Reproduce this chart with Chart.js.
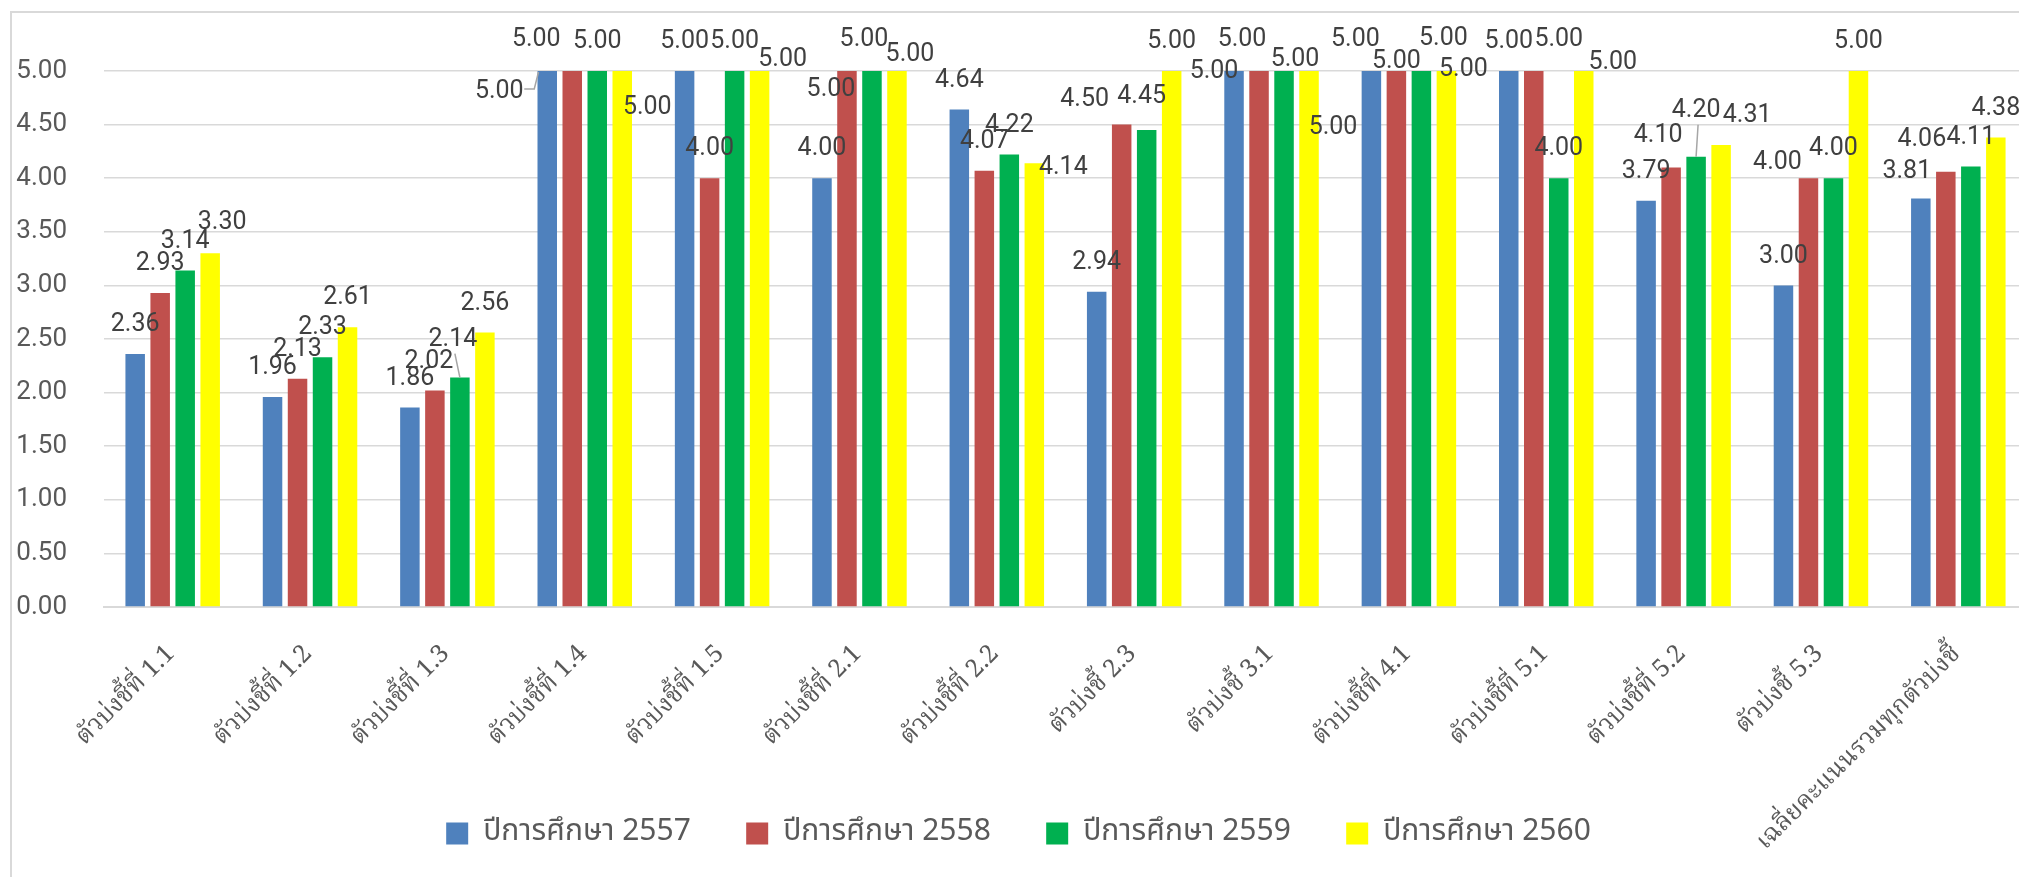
<!DOCTYPE html>
<html>
<head>
<meta charset="utf-8">
<script src="https://cdn.jsdelivr.net/npm/chart.js@4.4.0/dist/chart.umd.min.js"></script>
<style>
    html, body { margin: 0; padding: 0; background: #fff; overflow: hidden; }
    #marco {
        position: absolute; left: 10px; top: 11px; width: 2100px; height: 900px;
        border-left: 2px solid #d9d9d9; border-top: 2px solid #d9d9d9;
    }
    #contenedor { position: absolute; left: 0; top: 0; width: 2035px; height: 877px; }
</style>
</head>
<body>
<div id="marco"></div>
<div id="contenedor"><canvas id="chartIndicadores"></canvas></div>
<script>
const categorias = [
    'ตัวบ่งชี้ที่ 1.1', 'ตัวบ่งชี้ที่ 1.2', 'ตัวบ่งชี้ที่ 1.3', 'ตัวบ่งชี้ที่ 1.4',
    'ตัวบ่งชี้ที่ 1.5', 'ตัวบ่งชี้ที่ 2.1', 'ตัวบ่งชี้ที่ 2.2', 'ตัวบ่งชี้ 2.3',
    'ตัวบ่งชี้ 3.1', 'ตัวบ่งชี้ที่ 4.1', 'ตัวบ่งชี้ที่ 5.1', 'ตัวบ่งชี้ที่ 5.2',
    'ตัวบ่งชี้ 5.3', 'เฉลี่ยคะแนนรวมทุกตัวบ่งชี้'
];

const nombresSeries = ['ปีการศึกษา 2557', 'ปีการศึกษา 2558', 'ปีการศึกษา 2559', 'ปีการศึกษา 2560'];

const valores2557 = [2.36, 1.96, 1.86, 5.00, 5.00, 4.00, 4.64, 2.94, 5.00, 5.00, 5.00, 3.79, 3.00, 3.81];
const valores2558 = [2.93, 2.13, 2.02, 5.00, 4.00, 5.00, 4.07, 4.50, 5.00, 5.00, 5.00, 4.10, 4.00, 4.06];
const valores2559 = [3.14, 2.33, 2.14, 5.00, 5.00, 5.00, 4.22, 4.45, 5.00, 5.00, 4.00, 4.20, 4.00, 4.11];
const valores2560 = [3.30, 2.61, 2.56, 5.00, 5.00, 5.00, 4.14, 5.00, 5.00, 5.00, 5.00, 4.31, 5.00, 4.38];

const colores = ['#4f81bd', '#c0504d', '#00b050', '#ffff00'];

// desplazamientos de etiquetas que Excel movió para que no se encimen (grupo,serie)
const ajustesEtiqueta = {
    '0,3': [12, -30],
    '2,1': [-6, -29], '2,2': [-7, -38, 'v'],
    '3,0': [-48, 21, 'h'], '3,1': [-36, -31], '3,3': [25, 37],
    '4,3': [23, -11],
    '5,1': [-16, 19], '5,2': [-8, -31], '5,3': [13, -16],
    '6,3': [29, 5],
    '7,1': [-37, -25], '7,2': [-5, -33],
    '8,0': [-20, 1], '8,1': [-17, -31], '8,2': [11, -11], '8,3': [24, 57],
    '9,0': [-16, -31], '9,1': [0, -9], '9,2': [22, -32], '9,3': [17, -1],
    '10,1': [25, -31], '10,3': [29, -8],
    '11,1': [-13, -32], '11,2': [0, -46, 'v'], '11,3': [26, -29],
    '12,1': [-31, -15],
    '13,0': [-14, -27], '13,1': [-24, -32]
};

const fuenteThai = "'Noto Sans Thai', 'Noto Sans Thai UI', 'Leelawadee UI', 'Garuda', 'Loma', 'Noto Sans', sans-serif";
const fuenteThaiSerif = "'Noto Serif Thai', 'Norasi', 'Kinnari', 'Noto Sans Thai', 'Garuda', serif";
const fuenteNumeros = "Roboto, 'Liberation Sans', sans-serif";

const etiquetasValor = {
    id: 'etiquetasValor',
    afterDatasetsDraw(chart) {
        const ctx = chart.ctx;
        ctx.save();
        ctx.font = '25px ' + fuenteNumeros;
        ctx.textAlign = 'center';
        ctx.textBaseline = 'middle';
        chart.data.datasets.forEach((ds, s) => {
            chart.getDatasetMeta(s).data.forEach((bar, g) => {
                const ajuste = ajustesEtiqueta[g + ',' + s] || [0, -29];
                const x = bar.x + ajuste[0];
                const y = bar.y + ajuste[1];
                if (ajuste[2]) {
                    ctx.strokeStyle = '#a6a6a6';
                    ctx.lineWidth = 1.5;
                    ctx.beginPath();
                    if (ajuste[2] === 'h') {
                        ctx.moveTo(x + 25, y - 3);
                        ctx.lineTo(x + 35, y - 3);
                        ctx.lineTo(bar.x - bar.width / 2 + 1, bar.y + 1);
                    } else {
                        ctx.moveTo(x + 2, y + 14);
                        ctx.lineTo(bar.x, bar.y);
                    }
                    ctx.stroke();
                }
                ctx.fillStyle = '#404040';
                ctx.fillText(ds.data[g].toFixed(2), x, y);
            });
        });
        ctx.restore();
    }
};

function renderChartIndicadores() {
    const canvas = document.getElementById('chartIndicadores');
    if (!canvas) return;

    if (window.chartIndicadores?.destroy) {
        window.chartIndicadores.destroy();
    }

    // medir el texto de la leyenda para dejar los cuadros cada 300px
    const medidor = canvas.getContext('2d');
    medidor.font = '30px ' + fuenteThai;
    const anchoTexto = medidor.measureText(nombresSeries[0]).width;
    const espacioLeyenda = Math.max(10, 300 - 22 - 15 - anchoTexto);

    const series = [valores2557, valores2558, valores2559, valores2560];

    window.chartIndicadores = new Chart(canvas, {
        type: 'bar',
        data: {
            labels: categorias,
            datasets: series.map((valores, i) => ({
                label: nombresSeries[i],
                data: valores,
                backgroundColor: colores[i],
                categoryPercentage: 0.728,
                barPercentage: 0.78
            }))
        },
        options: {
            responsive: true,
            maintainAspectRatio: false,
            animation: false,
            layout: { padding: { top: 71, right: 8, bottom: 18.5, left: 10 } },
            scales: {
                x: {
                    grid: { display: false },
                    border: { color: '#d9d9d9', width: 2 },
                    afterFit: scale => {
                        scale.height = 211.5 - espacioLeyenda;
                        // que la etiqueta larga no se corte al borde del eje
                        scale._computeLabelArea = () => undefined;
                    },
                    ticks: {
                        autoSkip: false,
                        maxRotation: 45,
                        minRotation: 45,
                        padding: 26,
                        color: '#595959',
                        font: { family: fuenteThaiSerif, size: 25 }
                    }
                },
                y: {
                    min: 0,
                    max: 5,
                    border: { display: false },
                    grid: { color: '#d9d9d9', lineWidth: 1.5, drawTicks: false },
                    afterFit: scale => {
                        scale.width = 94;
                        scale._computeLabelArea = () => undefined;
                    },
                    ticks: {
                        stepSize: 0.5,
                        padding: 37,
                        color: '#595959',
                        font: { family: fuenteNumeros, size: 26 },
                        callback: v => Number(v).toFixed(2)
                    }
                }
            },
            plugins: {
                legend: {
                    position: 'bottom',
                    labels: {
                        boxWidth: 22,
                        boxHeight: 22,
                        padding: espacioLeyenda,
                        color: '#595959',
                        font: { family: fuenteThai, size: 30 }
                    }
                },
                tooltip: { enabled: false }
            }
        },
        plugins: [etiquetasValor]
    });
}

renderChartIndicadores();
</script>
</body>
</html>
